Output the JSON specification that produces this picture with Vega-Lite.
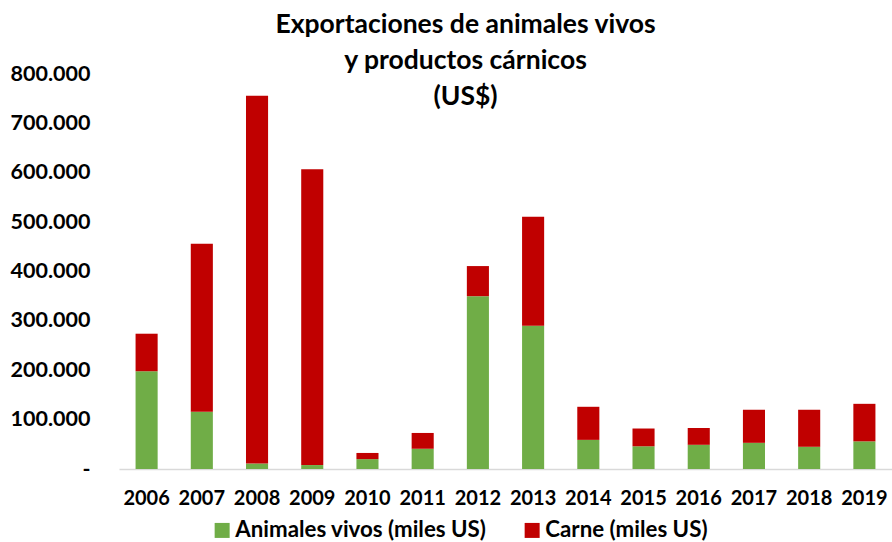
{
  "$schema": "https://vega.github.io/schema/vega-lite/v6.json",
  "width": 773,
  "height": 395,
  "autosize": {"type": "none"},
  "padding": {"left": 119, "right": 0, "top": 74, "bottom": 73},
  "background": "white",
  "title": {
    "text": ["Exportaciones de animales vivos", "y productos cárnicos", "(US$)"],
    "font": "Lato",
    "fontSize": 26.5,
    "fontWeight": "bold",
    "color": "black",
    "anchor": "middle",
    "frame": "group",
    "lineHeight": 36,
    "offset": 0,
    "dy": 47,
    "dx": -40
  },
  "data": {
    "values": [
      {"anio": "2006", "serie": "Animales vivos (miles US)", "valor": 198000},
      {"anio": "2006", "serie": "Carne (miles US)", "valor": 76000},
      {"anio": "2007", "serie": "Animales vivos (miles US)", "valor": 116000},
      {"anio": "2007", "serie": "Carne (miles US)", "valor": 340000},
      {"anio": "2008", "serie": "Animales vivos (miles US)", "valor": 11000},
      {"anio": "2008", "serie": "Carne (miles US)", "valor": 745000},
      {"anio": "2009", "serie": "Animales vivos (miles US)", "valor": 8000},
      {"anio": "2009", "serie": "Carne (miles US)", "valor": 599000},
      {"anio": "2010", "serie": "Animales vivos (miles US)", "valor": 20000},
      {"anio": "2010", "serie": "Carne (miles US)", "valor": 12500},
      {"anio": "2011", "serie": "Animales vivos (miles US)", "valor": 41000},
      {"anio": "2011", "serie": "Carne (miles US)", "valor": 32000},
      {"anio": "2012", "serie": "Animales vivos (miles US)", "valor": 350000},
      {"anio": "2012", "serie": "Carne (miles US)", "valor": 61000},
      {"anio": "2013", "serie": "Animales vivos (miles US)", "valor": 290000},
      {"anio": "2013", "serie": "Carne (miles US)", "valor": 221000},
      {"anio": "2014", "serie": "Animales vivos (miles US)", "valor": 59000},
      {"anio": "2014", "serie": "Carne (miles US)", "valor": 67000},
      {"anio": "2015", "serie": "Animales vivos (miles US)", "valor": 46000},
      {"anio": "2015", "serie": "Carne (miles US)", "valor": 36000},
      {"anio": "2016", "serie": "Animales vivos (miles US)", "valor": 49000},
      {"anio": "2016", "serie": "Carne (miles US)", "valor": 34000},
      {"anio": "2017", "serie": "Animales vivos (miles US)", "valor": 53000},
      {"anio": "2017", "serie": "Carne (miles US)", "valor": 67000},
      {"anio": "2018", "serie": "Animales vivos (miles US)", "valor": 45000},
      {"anio": "2018", "serie": "Carne (miles US)", "valor": 75000},
      {"anio": "2019", "serie": "Animales vivos (miles US)", "valor": 56000},
      {"anio": "2019", "serie": "Carne (miles US)", "valor": 76000}
    ]
  },
  "mark": {"type": "bar"},
  "encoding": {
    "x": {
      "field": "anio",
      "type": "nominal",
      "scale": {"paddingInner": 0.6, "paddingOuter": 0.3},
      "axis": {
        "title": null,
        "labelAngle": 0,
        "labelFont": "Lato",
        "labelFontSize": 20,
        "labelFontWeight": "bold",
        "labelColor": "black",
        "labelPadding": 19,
        "ticks": false,
        "tickSize": 0,
        "domain": true,
        "domainColor": "#d9d9d9",
        "domainWidth": 1.5,
        "grid": false
      }
    },
    "y": {
      "field": "valor",
      "type": "quantitative",
      "aggregate": "sum",
      "stack": "zero",
      "scale": {"domain": [0, 800000], "nice": false},
      "axis": {
        "title": null,
        "values": [0, 100000, 200000, 300000, 400000, 500000, 600000, 700000, 800000],
        "labelExpr": "datum.value === 0 ? '-' : replace(format(datum.value, ','), ',', '.')",
        "labelFont": "Lato",
        "labelFontSize": 21.5,
        "labelFontWeight": "bold",
        "labelColor": "black",
        "labelPadding": 29,
        "ticks": false,
        "tickSize": 0,
        "domain": false,
        "grid": false
      }
    },
    "color": {
      "field": "serie",
      "type": "nominal",
      "scale": {
        "domain": ["Animales vivos (miles US)", "Carne (miles US)"],
        "range": ["#70ad47", "#c00000"]
      },
      "legend": {
        "title": null,
        "orient": "none",
        "direction": "horizontal",
        "legendX": 92,
        "legendY": 445,
        "padding": 0,
        "symbolType": "square",
        "symbolSize": 225,
        "symbolStrokeWidth": 0,
        "labelFont": "Lato",
        "labelFontSize": 22.3,
        "labelFontWeight": "bold",
        "labelColor": "black",
        "labelOffset": 2,
        "columnPadding": 34,
        "labelLimit": 400
      }
    },
    "order": {"field": "serie", "sort": "ascending"}
  },
  "config": {
    "view": {"stroke": null}
  }
}
